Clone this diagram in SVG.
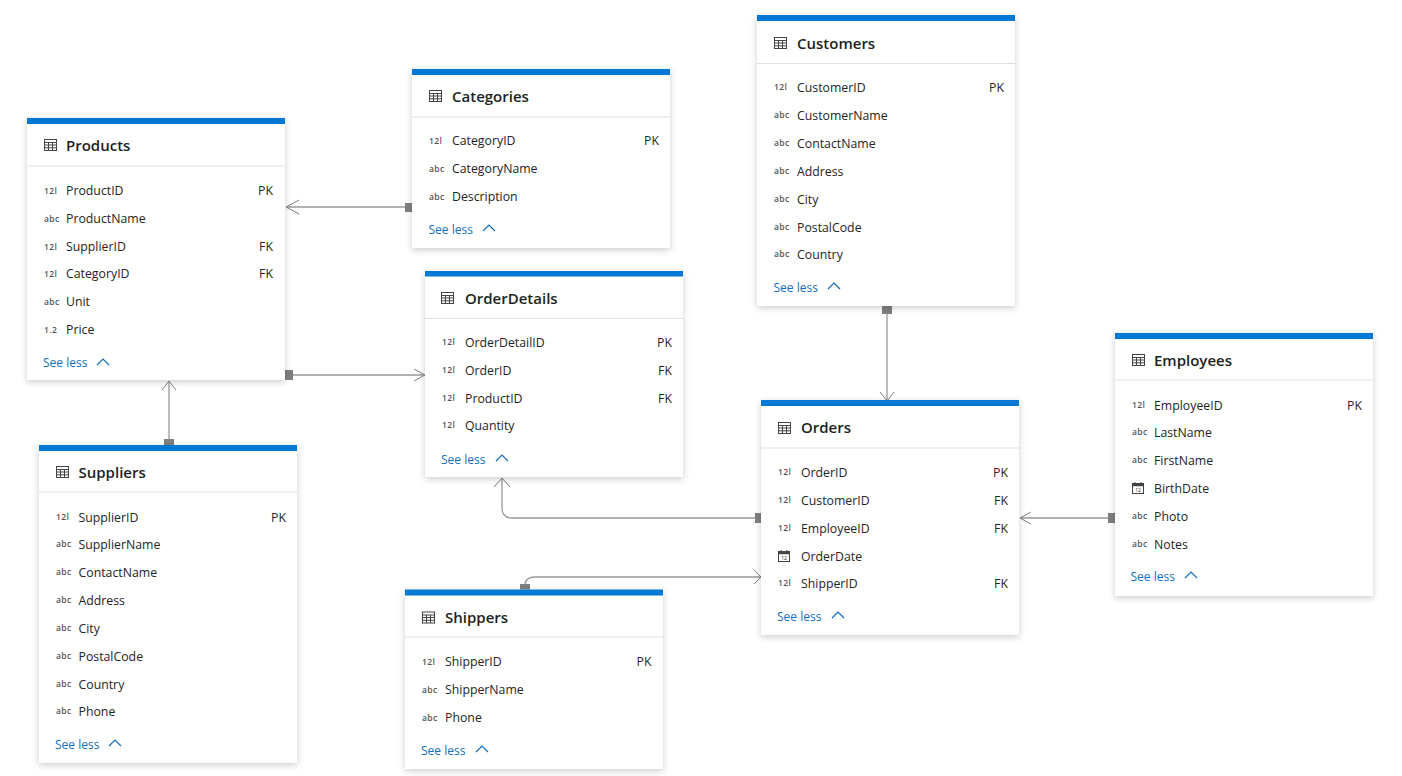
<svg xmlns="http://www.w3.org/2000/svg" xmlns:xlink="http://www.w3.org/1999/xlink" width="1402" height="776" viewBox="0 0 1402 776">
<style>
text{font-family:"Open Sans","Noto Sans","Liberation Sans",sans-serif;fill:#252423}
.card{fill:#fff;filter:url(#sh)}
.bar{fill:#0078d4}
.hl{stroke:#e1dfdd;stroke-width:1.2;fill:none}
.title{font-size:15px;font-weight:600;fill:#201f1e}
.f{font-size:12.3px}
.k{font-size:12.3px;text-anchor:end}
.t{font-size:8.5px;font-weight:600;fill:#555;letter-spacing:.4px}
.see{font-size:12px;fill:#106ebe}
.chev{fill:none;stroke:#106ebe;stroke-width:1.2}
.ic{fill:none;stroke:#444;stroke-width:1}
.c{fill:none;stroke:#999;stroke-width:1.3}
.a{fill:none;stroke:#808080;stroke-width:1}
.s{fill:#808080}
</style>
<defs>
<filter id="sh" x="-10%" y="-10%" width="120%" height="120%"><feDropShadow dx="0" dy="2" stdDeviation="3.5" flood-color="#000" flood-opacity="0.2"/></filter>
<g id="tb"><rect x="0.5" y="0.5" width="12" height="11" class="ic"/><path d="M0.5 3.500H12.500M0.5 6H12.500M0.5 8.800H12.500M4.500 3.500V11.500M8.500 3.500V11.500" class="ic"/></g>
<g id="cal"><rect x="0.5" y="1.500" width="11" height="10" class="ic"/><rect x="0.5" y="1.500" width="11" height="2.700" fill="#444"/><path d="M3 0V2M9 0V2" class="ic"/><text x="6" y="10.200" font-size="5" text-anchor="middle">12</text></g>
<path id="chv" d="M0 6L6 0L12 6" class="chev"/>
</defs>
<g id="connectors">
<path class="c" d="M408 207H287"/><path class="a" d="M299 200L286 207L299 214"/><rect class="s" x="405" y="203" width="7" height="9"/>
<path class="c" d="M293 375H424"/><path class="a" d="M414 369L425 375L414 381"/><rect class="s" x="285" y="370" width="8" height="10"/>
<path class="c" d="M169 439V382"/><path class="a" d="M162 390L169 381L176 390"/><rect class="s" x="164" y="439" width="10" height="6"/>
<path class="c" d="M887 314V400"/><path class="a" d="M880 392L887 401L894 392"/><rect class="s" x="882" y="306" width="10" height="8"/>
<path class="c" d="M755 518H512Q502 518 502 508V479"/><path class="a" d="M494 487L502 478L510 487"/><rect class="s" x="755" y="513" width="6" height="10"/>
<path class="c" d="M525 584Q526 577 535 577H760"/><path class="a" d="M754 570L761 577L754 584"/><rect class="s" x="520" y="584" width="10" height="6"/>
<path class="c" d="M1108 518H1021"/><path class="a" d="M1031 512L1020 518L1031 524"/><rect class="s" x="1108" y="513" width="7" height="10"/>
</g>
<g id="Products" transform="translate(27 118)">
<rect class="card" width="258" height="262"/><rect class="bar" width="258" height="6"/><path class="hl" d="M0 48H258"/>
<use href="#tb" x="17" y="21"/><text class="title" x="39" y="33">Products</text>
<text class="t" x="17" y="75.500">12l</text><text class="f" x="39" y="77">ProductID</text><text class="k" x="246" y="77">PK</text>
<text class="t" x="17" y="103.500">abc</text><text class="f" x="39" y="105">ProductName</text>
<text class="t" x="17" y="131.500">12l</text><text class="f" x="39" y="133">SupplierID</text><text class="k" x="246" y="133">FK</text>
<text class="t" x="17" y="158.500">12l</text><text class="f" x="39" y="160">CategoryID</text><text class="k" x="246" y="160">FK</text>
<text class="t" x="17" y="186.500">abc</text><text class="f" x="39" y="188">Unit</text>
<text class="t" x="17" y="214.500">1.2</text><text class="f" x="39" y="216">Price</text>
<text class="see" x="16" y="249">See less</text><use href="#chv" x="70" y="241"/>
</g>
<g id="Categories" transform="translate(412 69)">
<rect class="card" width="258" height="179"/><rect class="bar" width="258" height="6"/><path class="hl" d="M0 48H258"/>
<use href="#tb" x="17" y="21"/><text class="title" x="40" y="33">Categories</text>
<text class="t" x="17" y="75">12l</text><text class="f" x="40" y="76">CategoryID</text><text class="k" x="247" y="76">PK</text>
<text class="t" x="17" y="103">abc</text><text class="f" x="40" y="104">CategoryName</text>
<text class="t" x="17" y="131">abc</text><text class="f" x="40" y="132">Description</text>
<text class="see" x="16.500" y="165">See less</text><use href="#chv" x="71" y="156"/>
</g>
<g id="Customers" transform="translate(757 15)">
<rect class="card" width="258" height="291"/><rect class="bar" width="258" height="6"/><path class="hl" d="M0 48.500H258"/>
<use href="#tb" x="17" y="22"/><text class="title" x="40" y="34">Customers</text>
<text class="t" x="17" y="75">12l</text><text class="f" x="40" y="76.500">CustomerID</text><text class="k" x="247" y="76.500">PK</text>
<text class="t" x="17" y="103">abc</text><text class="f" x="40" y="104.500">CustomerName</text>
<text class="t" x="17" y="131">abc</text><text class="f" x="40" y="132.500">ContactName</text>
<text class="t" x="17" y="159">abc</text><text class="f" x="40" y="160.500">Address</text>
<text class="t" x="17" y="187">abc</text><text class="f" x="40" y="188.500">City</text>
<text class="t" x="17" y="215">abc</text><text class="f" x="40" y="216.500">PostalCode</text>
<text class="t" x="17" y="242">abc</text><text class="f" x="40" y="243.500">Country</text>
<text class="see" x="16.500" y="277">See less</text><use href="#chv" x="71" y="268"/>
</g>
<g id="OrderDetails" transform="translate(425 271)">
<rect class="card" width="258" height="206"/><rect class="bar" width="258" height="5.500"/><path class="hl" d="M0 47.500H258"/>
<use href="#tb" x="16" y="21"/><text class="title" x="40" y="33">OrderDetails</text>
<text class="t" x="17" y="74">12l</text><text class="f" x="40" y="75.500">OrderDetailID</text><text class="k" x="247" y="75.500">PK</text>
<text class="t" x="17" y="102">12l</text><text class="f" x="40" y="103.500">OrderID</text><text class="k" x="247" y="103.500">FK</text>
<text class="t" x="17" y="130">12l</text><text class="f" x="40" y="131.500">ProductID</text><text class="k" x="247" y="131.500">FK</text>
<text class="t" x="17" y="157">12l</text><text class="f" x="40" y="158.500">Quantity</text>
<text class="see" x="16" y="193">See less</text><use href="#chv" x="71" y="184"/>
</g>
<g id="Orders" transform="translate(761 400)">
<rect class="card" width="258" height="235"/><rect class="bar" width="258" height="6"/><path class="hl" d="M0 48H258"/>
<use href="#tb" x="17" y="22"/><text class="title" x="40" y="33">Orders</text>
<text class="t" x="17" y="75">12l</text><text class="f" x="40" y="76.500">OrderID</text><text class="k" x="247" y="76.500">PK</text>
<text class="t" x="17" y="103">12l</text><text class="f" x="40" y="104.500">CustomerID</text><text class="k" x="247" y="104.500">FK</text>
<text class="t" x="17" y="131">12l</text><text class="f" x="40" y="132.500">EmployeeID</text><text class="k" x="247" y="132.500">FK</text>
<use href="#cal" x="17" y="150"/><text class="f" x="40" y="160.500">OrderDate</text>
<text class="t" x="17" y="186">12l</text><text class="f" x="40" y="187.500">ShipperID</text><text class="k" x="247" y="187.500">FK</text>
<text class="see" x="16" y="221">See less</text><use href="#chv" x="71" y="212"/>
</g>
<g id="Employees" transform="translate(1115 333)">
<rect class="card" width="258" height="263"/><rect class="bar" width="258" height="6"/><path class="hl" d="M0 47H258"/>
<use href="#tb" x="17" y="21"/><text class="title" x="39" y="33">Employees</text>
<text class="t" x="17" y="75">12l</text><text class="f" x="39" y="76.500">EmployeeID</text><text class="k" x="247" y="76.500">PK</text>
<text class="t" x="17" y="102">abc</text><text class="f" x="39" y="103.500">LastName</text>
<text class="t" x="17" y="130">abc</text><text class="f" x="39" y="131.500">FirstName</text>
<use href="#cal" x="17" y="149"/><text class="f" x="39" y="159.500">BirthDate</text>
<text class="t" x="17" y="186">abc</text><text class="f" x="39" y="187.500">Photo</text>
<text class="t" x="17" y="214">abc</text><text class="f" x="39" y="215.500">Notes</text>
<text class="see" x="15.500" y="248">See less</text><use href="#chv" x="70" y="239"/>
</g>
<g id="Suppliers" transform="translate(39 445)">
<rect class="card" width="258" height="318"/><rect class="bar" width="258" height="6"/><path class="hl" d="M0 47H258"/>
<use href="#tb" x="17" y="21"/><text class="title" x="39.500" y="33">Suppliers</text>
<text class="t" x="17" y="75">12l</text><text class="f" x="39.500" y="76.500">SupplierID</text><text class="k" x="247" y="76.500">PK</text>
<text class="t" x="17" y="102">abc</text><text class="f" x="39.500" y="103.500">SupplierName</text>
<text class="t" x="17" y="130">abc</text><text class="f" x="39.500" y="131.500">ContactName</text>
<text class="t" x="17" y="158">abc</text><text class="f" x="39.500" y="159.500">Address</text>
<text class="t" x="17" y="186">abc</text><text class="f" x="39.500" y="187.500">City</text>
<text class="t" x="17" y="214">abc</text><text class="f" x="39.500" y="215.500">PostalCode</text>
<text class="t" x="17" y="242">abc</text><text class="f" x="39.500" y="243.500">Country</text>
<text class="t" x="17" y="269">abc</text><text class="f" x="39.500" y="270.500">Phone</text>
<text class="see" x="16" y="304">See less</text><use href="#chv" x="70" y="295"/>
</g>
<g id="Shippers" transform="translate(405 589.500)">
<rect class="card" width="258" height="179.500"/><rect class="bar" width="258" height="6"/><path class="hl" d="M0 47.500H258"/>
<use href="#tb" x="17" y="22"/><text class="title" x="40" y="33.500">Shippers</text>
<text class="t" x="17" y="75.500">12l</text><text class="f" x="40" y="76.500">ShipperID</text><text class="k" x="246.500" y="76.500">PK</text>
<text class="t" x="17" y="103.500">abc</text><text class="f" x="40" y="104.500">ShipperName</text>
<text class="t" x="17" y="131.500">abc</text><text class="f" x="40" y="132.500">Phone</text>
<text class="see" x="16" y="165.500">See less</text><use href="#chv" x="71" y="156.500"/>
</g>
</svg>
